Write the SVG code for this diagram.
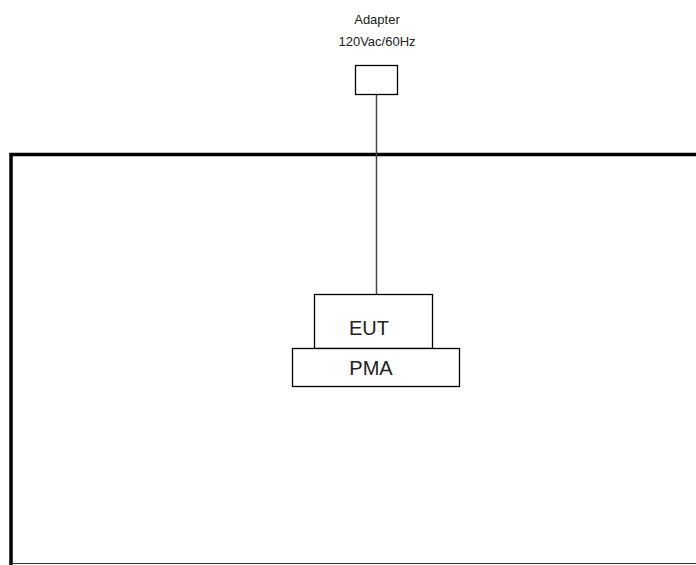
<svg xmlns="http://www.w3.org/2000/svg" width="696" height="565" viewBox="0 0 696 565">
<style>
.box{fill:#fff;stroke:#000;stroke-width:1.3}
.t{font-family:"Liberation Sans",Arial,sans-serif;fill:#222;text-anchor:middle}
</style>
<rect width="696" height="565" fill="#fff"/>
<g id="chamber">
<path d="M11,565 V154.5 H696" fill="none" stroke="#000" stroke-width="3.5"/>
<line x1="11" y1="563.5" x2="696" y2="563.5" stroke="#333" stroke-width="1.2"/>
</g>
<g id="connectors">
<line x1="376.5" y1="95" x2="376.5" y2="294" stroke="#444" stroke-width="1.5"/>
</g>
<g id="adapter">
<text class="t" x="377" y="24" font-size="13">Adapter</text>
<text class="t" x="377" y="46" font-size="13">120Vac/60Hz</text>
<rect class="box" x="355.5" y="65.5" width="42" height="29"/>
</g>
<g id="eut">
<rect class="box" x="314.5" y="294.5" width="118" height="54"/>
<text class="t" x="369" y="335" font-size="20">EUT</text>
</g>
<g id="pma">
<rect class="box" x="292.5" y="348.5" width="167" height="38"/>
<text class="t" x="371" y="375" font-size="20">PMA</text>
</g>
</svg>
